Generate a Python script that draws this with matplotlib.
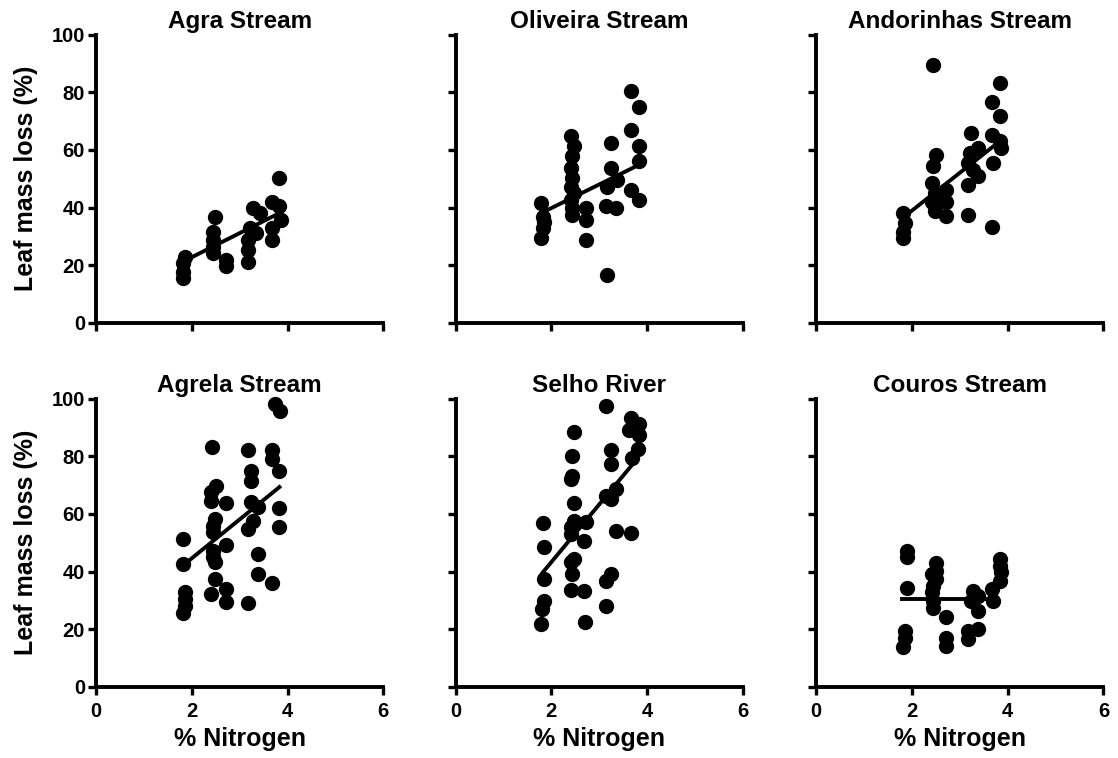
import matplotlib.pyplot as plt

plt.rcParams['font.family'] = ['Liberation Sans', 'DejaVu Sans']
plt.rcParams['font.weight'] = 'bold'

titles = ['Agra Stream', 'Oliveira Stream', 'Andorinhas Stream',
          'Agrela Stream', 'Selho River', 'Couros Stream']

# % nitrogen and leaf mass loss (%) per stream
agra_x = [3.83, 3.68, 3.83, 3.87, 3.68, 3.68, 3.28, 3.42, 3.21, 3.35, 3.17, 3.17,
          3.17, 2.48, 2.44, 2.44, 2.44, 2.44, 2.72, 2.72, 1.85, 1.82, 1.82, 1.82]
agra_y = [50.2, 42.1, 40.4, 35.8, 32.9, 28.8, 39.8, 38.0, 32.9, 31.1, 28.8, 25.3,
          21.3, 36.9, 31.7, 28.8, 26.5, 24.2, 21.9, 19.6, 23.0, 20.7, 17.8, 15.5]

oliveira_x = [3.66, 3.82, 3.66, 3.82, 3.82, 3.66, 3.83, 3.24, 3.24, 3.38, 3.17,
              3.14, 3.35, 3.17, 2.41, 2.48, 2.44, 2.41, 2.44, 2.41, 2.48, 2.41,
              2.44, 2.44, 2.72, 2.72, 2.72, 1.78, 1.82, 1.82, 1.78, 1.85]
oliveira_y = [80.3, 74.9, 67.0, 61.2, 56.0, 46.2, 42.7, 62.4, 53.7, 49.7, 47.3,
              40.4, 39.8, 16.7, 64.7, 61.2, 57.8, 53.7, 50.2, 47.3, 45.0, 42.7,
              39.8, 37.5, 39.8, 35.8, 28.8, 41.6, 36.9, 32.9, 29.4, 35.0]

andorinhas_x = [2.43, 3.83, 3.68, 3.83, 3.68, 3.83, 3.87, 3.69, 3.68, 3.24, 3.38,
                3.21, 3.17, 3.28, 3.38, 3.17, 3.17, 2.51, 2.44, 2.41, 2.48, 2.41,
                2.48, 2.72, 2.72, 2.72, 1.82, 1.85, 1.82, 1.82]
andorinhas_y = [89.6, 83.2, 76.5, 71.9, 65.3, 63.0, 60.6, 55.4, 33.4, 65.9, 60.6,
                58.9, 55.4, 53.1, 50.8, 47.9, 37.5, 58.3, 54.3, 48.5, 45.0, 42.1,
                38.7, 46.2, 42.1, 37.0, 38.1, 34.6, 31.7, 29.4]

agrela_x = [3.73, 3.85, 2.43, 3.17, 3.68, 3.68, 3.83, 3.24, 3.24, 2.51, 2.41, 2.41,
            2.72, 3.24, 3.38, 3.83, 3.83, 2.48, 2.44, 2.44, 3.28, 3.17, 2.72, 2.44,
            2.44, 2.48, 1.82, 1.82, 3.38, 3.38, 3.68, 2.48, 2.41, 2.72, 2.72, 3.17,
            1.85, 1.85, 1.85, 1.82]
agrela_y = [98.1, 95.6, 83.3, 82.2, 82.2, 79.0, 74.8, 75.0, 71.5, 69.8, 67.5, 64.6,
            63.7, 64.0, 62.3, 62.0, 55.6, 58.3, 55.9, 53.6, 57.6, 54.7, 49.3, 47.2,
            44.9, 43.2, 51.3, 42.6, 46.1, 39.1, 36.0, 37.4, 32.4, 33.9, 29.3, 29.0,
            32.8, 30.5, 28.2, 25.8]

selho_x = [3.14, 3.66, 3.83, 3.63, 3.83, 3.80, 3.68, 2.48, 2.44, 3.24, 3.24, 2.44,
           2.41, 3.35, 3.14, 3.24, 2.48, 2.48, 2.72, 2.41, 2.41, 3.35, 3.66, 1.82,
           1.85, 2.69, 2.48, 2.41, 2.44, 3.24, 3.14, 1.85, 2.41, 2.69, 3.14, 1.85,
           1.81, 1.78, 2.71]
selho_y = [97.3, 93.4, 91.3, 89.0, 87.3, 82.6, 79.5, 88.3, 80.2, 82.0, 77.3, 73.3,
           72.2, 68.6, 66.3, 65.2, 63.7, 57.6, 57.1, 55.4, 53.0, 54.2, 53.4, 56.7,
           48.4, 50.7, 44.3, 43.2, 39.1, 39.1, 36.8, 37.4, 33.6, 33.3, 28.1, 29.9,
           27.0, 22.0, 22.4]

couros_x = [1.89, 1.89, 1.89, 1.85, 1.85, 1.82, 2.51, 2.51, 2.41, 2.51, 2.44, 2.41,
            2.44, 2.44, 2.72, 2.72, 2.72, 3.28, 3.38, 3.24, 3.38, 3.17, 3.38, 3.17,
            3.68, 3.69, 3.83, 3.83, 3.87, 3.83]
couros_y = [47.2, 44.9, 34.4, 19.4, 17.1, 13.7, 42.9, 40.3, 39.2, 37.4, 35.1, 32.8,
            29.9, 27.5, 24.1, 17.1, 14.2, 33.4, 31.6, 29.9, 26.5, 19.4, 20.0, 16.5,
            34.0, 29.9, 44.3, 42.0, 39.7, 36.8]

# regression lines: (x start, x end, y start, y end)
fit_x0 = [1.82, 1.80, 1.82, 1.82, 1.82, 1.80]
fit_x1 = [3.83, 3.85, 3.85, 3.83, 3.80, 3.72]
fit_y0 = [21.3, 38.2, 36.6, 42.2, 39.7, 30.4]
fit_y1 = [38.1, 55.0, 63.2, 69.3, 79.3, 30.4]

xs = [agra_x, oliveira_x, andorinhas_x, agrela_x, selho_x, couros_x]
ys = [agra_y, oliveira_y, andorinhas_y, agrela_y, selho_y, couros_y]

fig = plt.figure(figsize=(11.18, 7.58), dpi=100)
lefts = [0.0859, 0.4075, 0.7300]
bottoms = [0.5739, 0.0937]
w, h = 0.2570, 0.3805

for i in range(6):
    row, col = divmod(i, 3)
    ax = fig.add_axes([lefts[col], bottoms[row], w, h])
    ax.plot(xs[i], ys[i], 'o', color='black', ms=10, clip_on=False)
    ax.plot([fit_x0[i], fit_x1[i]], [fit_y0[i], fit_y1[i]], color='black', lw=2.8)
    ax.set_xlim(0, 6)
    ax.set_ylim(0, 100)
    ax.set_xticks([0, 2, 4, 6])
    ax.set_yticks([0, 20, 40, 60, 80, 100])
    for s in ['top', 'right']:
        ax.spines[s].set_visible(False)
    for s in ['left', 'bottom']:
        ax.spines[s].set_linewidth(2.8)
        ax.spines[s].set_capstyle('projecting')
    ax.tick_params(width=2.4, length=6, labelsize=14.5)
    ax.tick_params(axis='y', pad=2)
    ax.tick_params(axis='x', pad=5)
    ax.set_title(titles[i], fontsize=17.5, weight='bold', pad=5)
    if row == 0:
        ax.tick_params(labelbottom=False)
    else:
        ax.set_xlabel('% Nitrogen', fontsize=18, weight='bold', labelpad=4)
    if col == 0:
        ax.set_ylabel('Leaf mass loss (%)', fontsize=18, weight='bold', labelpad=10)
    else:
        ax.tick_params(labelleft=False)

plt.savefig('out.png', dpi=100)
